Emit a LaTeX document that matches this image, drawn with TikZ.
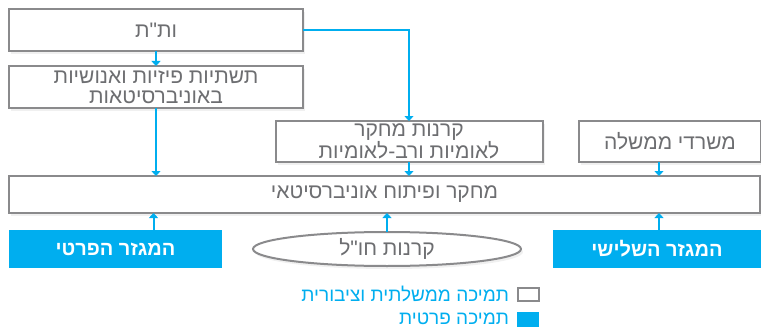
\documentclass[tikz,border=0pt]{standalone}
\usepackage{fontspec}
\newfontfamily\hebfont[Script=Hebrew]{Liberation Sans}
\TeXXeTstate=1
\usetikzlibrary{arrows.meta,shadows,shapes.geometric}
\definecolor{boxgray}{HTML}{8A8A8C}
\definecolor{textgray}{HTML}{6D6E71}
\definecolor{cyanfill}{HTML}{00AEEF}
\newcommand{\rl}[1]{\beginR #1\endR}

\begin{document}
\begin{tikzpicture}[x=1pt,y=-1pt,
  every node/.style={font=\hebfont\fontsize{21}{20}\selectfont, text=textgray, inner sep=0pt, outer sep=0pt},
  pubbox/.style={draw=boxgray, line width=2pt, fill=white, align=center,
    drop shadow={opacity=0.12, shadow xshift=2pt, shadow yshift=-3pt}},
  privbox/.style={fill=cyanfill, text=white, font=\hebfont\bfseries\fontsize{20}{20}\selectfont},
  keytext/.style={anchor=east, text=cyanfill, font=\hebfont\fontsize{19}{19}\selectfont},
  arr/.style={draw=cyanfill, line width=2pt, -{Triangle[width=9pt,length=5pt]}}]
\useasboundingbox (0,0) rectangle (761,329);

\node[pubbox, minimum width=294pt, minimum height=42pt] (vatat) at (156,30) {\rl{ות"ת}};
\node[pubbox, minimum width=294pt, minimum height=42pt] (infra) at (156,87) {\rl{תשתיות פיזיות ואנושיות}\\\rl{באוניברסיטאות}};
\node[pubbox, minimum width=267pt, minimum height=41pt] (funds) at (409,141.5) {\rl{קרנות מחקר}\\\rl{לאומיות ורב-לאומיות}};
\node[pubbox, minimum width=182pt, minimum height=41pt] (gov) at (670,141.5) {\rl{משרדי ממשלה}};
\node[pubbox, minimum width=751pt, minimum height=37pt] (rnd) at (384.5,194.5) {\rl{מחקר ופיתוח אוניברסיטאי}};

\node[privbox, minimum width=213pt, minimum height=38pt] (private) at (115.5,249) {\rl{המגזר הפרטי}};
\node[pubbox, ellipse, minimum width=268pt, minimum height=34pt] (abroad) at (387,249) {\rl{קרנות חו"ל}};
\node[privbox, minimum width=208pt, minimum height=38pt] (third) at (657,249) {\rl{המגזר השלישי}};

% legend
\node[draw=boxgray, line width=2pt, fill=white, minimum width=21pt, minimum height=13pt] (keypub) at (528,294) {};
\node[fill=cyanfill, minimum width=22pt, minimum height=15pt] (keypriv) at (528,319) {};
\node[keytext] (keypubtext) at (509,294) {\rl{תמיכה ממשלתית וציבורית}};
\node[keytext] (keyprivtext) at (509,319) {\rl{תמיכה פרטית}};

% connectors
\draw[arr] (vatat) -- (infra);
\draw[arr] (vatat.east) -| (funds.north);
\draw[arr] (infra) -- (infra |- rnd.north);
\draw[arr] (funds) -- (funds |- rnd.north);
\draw[arr] ([xshift=-11pt]gov.south) -- ([xshift=-11pt]gov.south |- rnd.north);
\draw[arr] ([xshift=38pt]private.north) -- ([xshift=38pt]private.north |- rnd.south);
\draw[arr] (abroad.north) -- (abroad.north |- rnd.south);
\draw[arr] ([xshift=2pt]third.north) -- ([xshift=2pt]third.north |- rnd.south);
\end{tikzpicture}
\end{document}
